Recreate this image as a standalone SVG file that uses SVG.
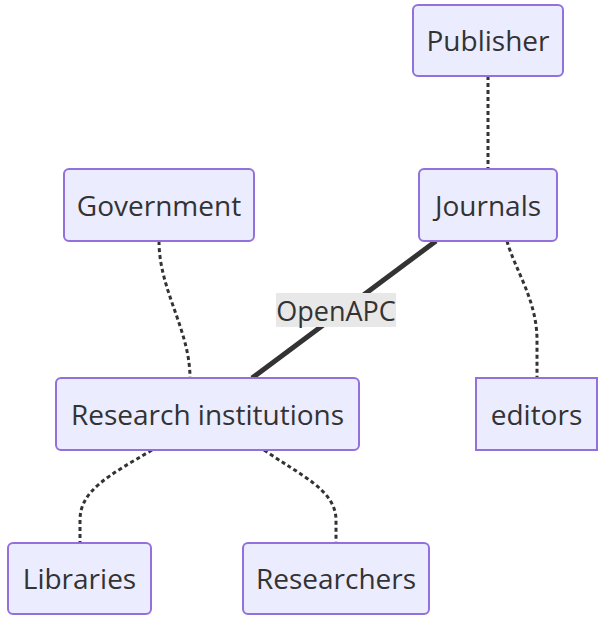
<svg xmlns="http://www.w3.org/2000/svg" width="608" height="626" viewBox="0 0 608 626">
<style>
.node rect{fill:#ECECFF;stroke:#9370DB;stroke-width:2}
.node text,.lbl text{font-family:"Open Sans","DejaVu Sans",sans-serif;font-size:28px;fill:#333;text-anchor:middle;dominant-baseline:central}
.lbl text{font-size:27px}
.dot{fill:none;stroke:#333;stroke-width:3;stroke-dasharray:4 3}
.thick{fill:none;stroke:#333;stroke-width:5}
</style>
<rect width="608" height="626" fill="#fff"/>
<g id="connectors">
<path class="dot" d="M488,76 L488,169"/>
<path class="dot" d="M159,241 C159,290 190,330 190,378"/>
<path class="thick" d="M436,241 L252,378"/>
<path class="dot" d="M507,241 C515,270 537,300 537,340 L537,378"/>
<path class="dot" d="M152,450 C110,475 80,490 80,520 L80,543"/>
<path class="dot" d="M264,450 C300,475 336,490 336,520 L336,543"/>
<g class="lbl"><rect x="276" y="293" width="120" height="34" fill="#e8e8e8"/><text x="336" y="310">OpenAPC</text></g>
</g>
<g id="publisher" class="node"><rect x="413" y="5" width="150" height="71" rx="5"/><text x="488" y="40">Publisher</text></g>
<g id="journals" class="node"><rect x="419" y="169" width="138" height="72" rx="5"/><text x="488" y="205">Journals</text></g>
<g id="government" class="node"><rect x="64" y="169" width="190" height="72" rx="5"/><text x="159" y="205">Government</text></g>
<g id="research" class="node"><rect x="56" y="378" width="303" height="72" rx="5"/><text x="207.5" y="414">Research institutions</text></g>
<g id="editors" class="node"><rect x="476" y="378" width="121" height="72"/><text x="536.5" y="414">editors</text></g>
<g id="libraries" class="node"><rect x="8" y="543" width="143" height="71" rx="5"/><text x="79.5" y="578">Libraries</text></g>
<g id="researchers" class="node"><rect x="243" y="543" width="186" height="71" rx="5"/><text x="336" y="578">Researchers</text></g>
</svg>
